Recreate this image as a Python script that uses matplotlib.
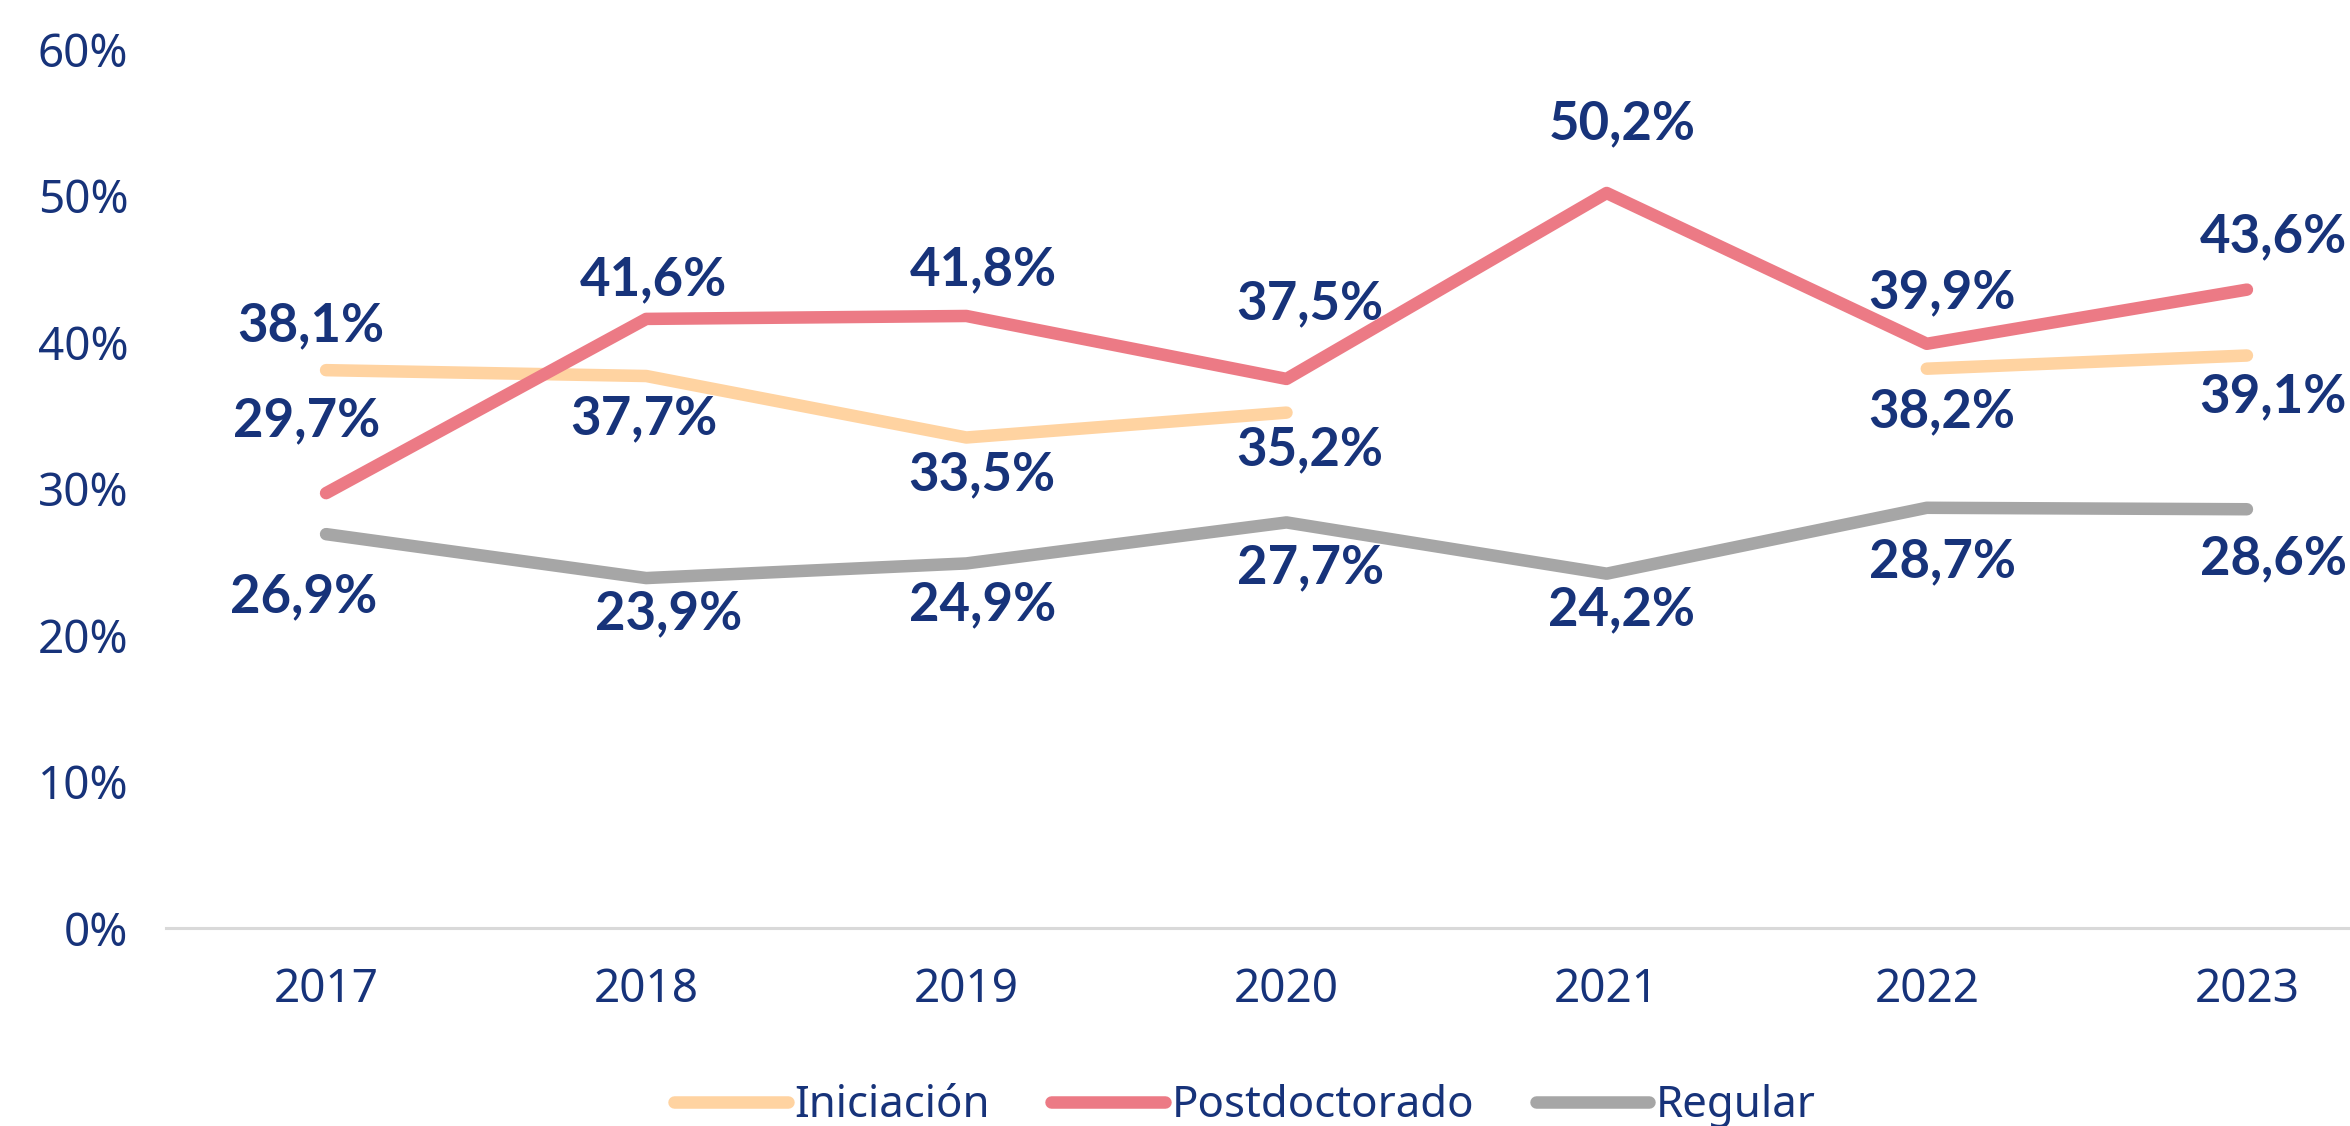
import numpy as np
import matplotlib
matplotlib.use("Agg")
import matplotlib.pyplot as plt

years = ["2017", "2018", "2019", "2020", "2021", "2022", "2023"]
iniciacion = [38.1, 37.7, 33.5, 35.2, np.nan, 38.2, 39.1]
postdoctorado = [29.7, 41.6, 41.8, 37.5, 50.2, 39.9, 43.6]
regular = [26.9, 23.9, 24.9, 27.7, 24.2, 28.7, 28.6]

NAVY = "#17337A"
colors = {"Iniciación": "#FFD3A1", "Postdoctorado": "#EC7A85", "Regular": "#A6A6A6"}

# label offsets in points (dx, dy) for each year
off_ini = [(-11, 32), (-2, -31), (11, -27), (17, -27), None, (11, -31), (19, -30)]
off_post = [(-14, 52), (5, 28), (12, 33), (17, 54), (11, 50), (11, 37), (19, 38)]
off_reg = [(-16, -45), (16, -26), (12, -30), (17, -33), (11, -26), (11, -39), (19, -36)]

plt.rcParams["font.family"] = ["Noto Sans", "DejaVu Sans"]

fig = plt.figure(figsize=(23.5, 11.26), dpi=100)
ax = fig.add_axes([166 / 2350, 1 - 928 / 1126, 2241 / 2350, (928 - 49.5) / 1126])

x = np.arange(len(years))
series = [("Iniciación", iniciacion, off_ini),
          ("Postdoctorado", postdoctorado, off_post),
          ("Regular", regular, off_reg)]

for name, vals, offs in series:
    ax.plot(x, vals, color=colors[name], lw=9, solid_capstyle="round",
            solid_joinstyle="round", label=name)

for name, vals, offs in series:
    for i, v in enumerate(vals):
        if np.isnan(v):
            continue
        ax.annotate(f"{v:.1f}%".replace(".", ","), (x[i], v),
                    xytext=offs[i], textcoords="offset points",
                    ha="center", va="center", fontsize=38,
                    fontweight="bold", color=NAVY,
                    family=["Lato", "DejaVu Sans"])

ax.set_xlim(-0.5, 6.5)
ax.set_ylim(0, 60)
ax.set_xticks(x)
ax.set_xticklabels(years)
ax.set_yticks(range(0, 61, 10))
ax.set_yticklabels([f"{t}%" for t in range(0, 61, 10)])
ax.tick_params(axis="both", length=0, labelsize=33, labelcolor=NAVY)
ax.tick_params(axis="y", pad=27)
ax.tick_params(axis="x", pad=28)

for s in ["top", "right", "left"]:
    ax.spines[s].set_visible(False)
ax.spines["bottom"].set_color("#D9D9D9")
ax.spines["bottom"].set_linewidth(2.2)

leg = fig.legend(loc="center", bbox_to_anchor=(1245 / 2350, 1 - 1106 / 1126),
                 ncol=3, frameon=False, fontsize=31.5, labelcolor=NAVY,
                 handlelength=2.6, handletextpad=0.15, columnspacing=1.4)

fig.savefig("out.png", dpi=100)
